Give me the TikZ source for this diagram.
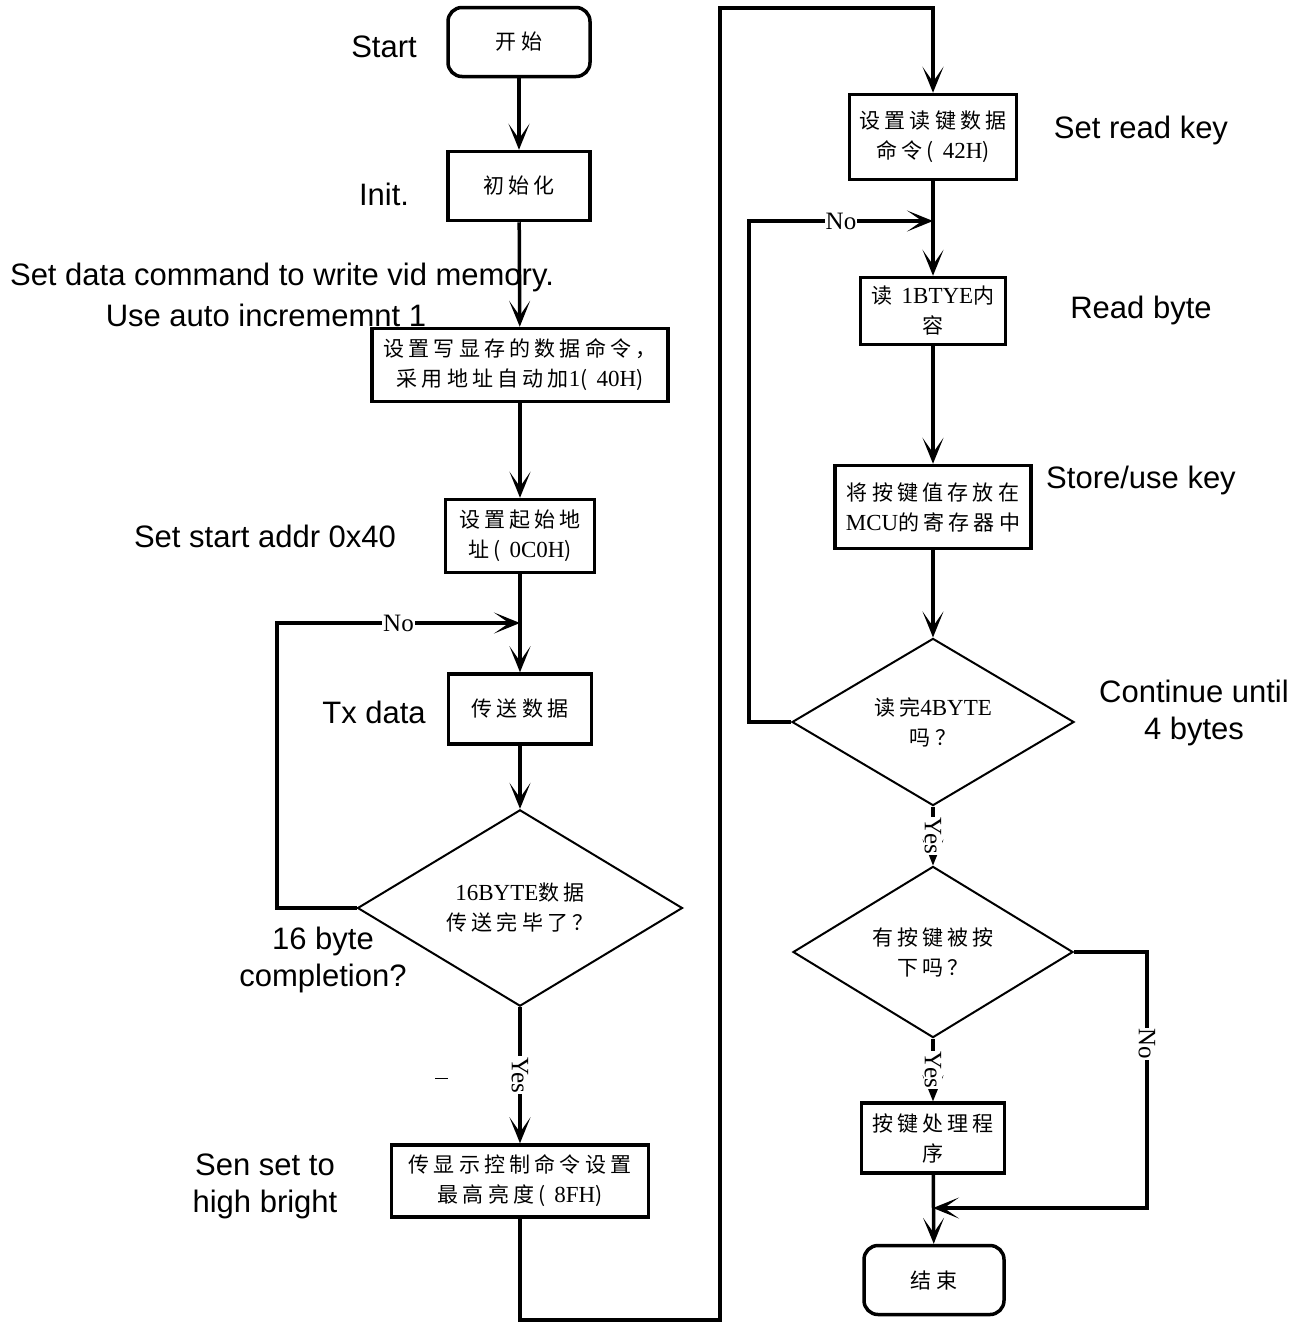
\documentclass[tikz,border=0pt]{standalone}
\usepackage{fontspec}
\setmainfont{Liberation Serif}
\setsansfont{Liberation Sans}
\newfontfamily\cjkfont[LetterSpace=20]{Noto Sans CJK SC}
\newfontfamily\latfont{Liberation Serif}
\newcommand\asc[1]{{\latfont\fontsize{23}{30}\selectfont #1}}
\usetikzlibrary{
    arrows.meta,
    shapes.geometric,
    positioning
}

\tikzset{
    proc/.style={draw, line width=3.5pt, align=center, inner sep=0pt,
        font=\cjkfont\fontsize{21}{30}\selectfont},
    term/.style={proc, rounded corners=14pt},
    dec/.style={diamond, draw, line width=2pt, align=center, inner sep=0pt,
        font=\cjkfont\fontsize{21}{30}\selectfont},
    note/.style={font=\sffamily\fontsize{31}{37}\selectfont, align=center, inner sep=0pt},
    flow/.style={line width=3.5pt, -{Stealth[length=26pt, width=21pt, inset=15pt, line width=2pt]}},
    lbl/.style={fill=white, inner sep=1pt, font=\fontsize{25}{25}\selectfont}
}

\begin{document}
\begin{tikzpicture}[x=1pt, y=-1pt]
    \useasboundingbox (0,0) rectangle (1294,1323);

    % left column
    \node[term, minimum width=142pt, minimum height=69pt] (start) at (519,42) {开始};
    \node[proc, minimum width=142pt, minimum height=69pt] (init) at (519,186) {初始化};
    \node[proc, minimum width=296pt, minimum height=73pt] (setcmd) at (520,365)
        {设置写显存的数据命令，\\采用地址自动加\asc{1}( \asc{40H})};
    \node[proc, minimum width=149pt, minimum height=73pt] (addr) at (520,536)
        {设置起始地\\址( \asc{0C0H})};
    \node[proc, minimum width=143pt, minimum height=70pt] (send) at (520,709) {传送数据};
    \node[dec, minimum width=325pt, minimum height=162pt] (done16) at (520,908)
        {\asc{16BYTE}数据\\传送完毕了？};
    \node[proc, minimum width=257pt, minimum height=72pt] (bright) at (520,1181)
        {传显示控制命令设置\\最高亮度( \asc{8FH})};

    % right column
    \node[proc, minimum width=167pt, minimum height=85pt] (readcmd) at (933,137)
        {设置读键数据\\命令( \asc{42H})};
    \node[proc, minimum width=145pt, minimum height=67pt] (readb) at (933,311)
        {读 \asc{1BTYE}内\\容};
    \node[proc, minimum width=196pt, minimum height=83pt] (store) at (933,507)
        {将按键值存放在\\\asc{MCU}的寄存器中};
    \node[dec, minimum width=282pt, minimum height=139pt] (done4) at (933,722)
        {读完\asc{4BYTE}\\吗？};
    \node[dec, minimum width=280pt, minimum height=140pt] (pressed) at (933,952)
        {有按键被按\\下吗？};
    \node[proc, minimum width=143pt, minimum height=70pt] (handle) at (933,1138)
        {按键处理程\\序};
    \node[term, minimum width=140pt, minimum height=69pt] (finish) at (934,1280) {结束};

    % english notes
    \node[note] (nstart) at (384,47) {Start};
    \node[note] (ninit) at (384,194) {Init.};
    \node[note] (nset1) at (282,277) {Set data command to write vid memory.};
    \node[note] (nset2) at (266,315) {Use auto incrememnt 1};
    \node[note] (naddr) at (265,536) {Set start addr 0x40};
    \node[note] (nsend) at (374,712) {Tx data};
    \node[note] (n16) at (323,960) {16 byte\\completion?};
    \node[note] (nbright) at (265,1186) {Sen set to\\high bright};
    \node[note] (nreadcmd) at (1141,130) {Set read key};
    \node[note] (nreadb) at (1141,310) {Read byte};
    \node[note] (nstore) at (1141,480) {Store/use key};
    \node[note] (n4) at (1194,713) {Continue until\\4 bytes};

    % junctions
    \coordinate (j1) at (520,623);
    \coordinate (loopL) at (277,908);
    \coordinate (c1) at (520,1320);
    \coordinate (c2) at (720,1320);
    \coordinate (c3) at (720,8);
    \coordinate (c4) at (933,8);
    \coordinate (j2) at (933,221);
    \coordinate (loopR) at (749,722);
    \coordinate (noR) at (1147,952);
    \coordinate (j3) at (933,1208);

    % connectors
    \draw[flow] (start) -- (init);
    \draw[flow] (init) -- (setcmd);
    \draw[flow] (setcmd) -- (addr);
    \draw[flow] (addr) -- (send);
    \draw[flow] (send) -- (done16);
    \draw[flow] (done16.west) -- (loopL) |- node[lbl, pos=0.75] {No} (j1);
    \draw[flow] (done16) -- node[lbl, rotate=-90] {Yes} (bright);
    \draw[flow] (bright) -- (c1) -- (c2) -- (c3) -- (c4) -- (readcmd);
    \draw[flow] (readcmd) -- (readb);
    \draw[flow] (readb) -- (store);
    \draw[flow] (store) -- (done4);
    \draw[flow] (done4.west) -- (loopR) |- node[lbl, pos=0.75] {No} (j2);
    \draw[flow] (done4) -- node[lbl, rotate=-90] {Yes} (pressed);
    \draw[flow] (pressed) -- node[lbl, rotate=-90] {Yes} (handle);
    \draw[flow] (pressed.east) -- (noR) |- node[lbl, rotate=-90, pos=0.18] {No} (j3);
    \draw[flow] (handle) -- (finish);

    \draw[line width=1pt] (435,1078) -- (448,1078);
\end{tikzpicture}
\end{document}
